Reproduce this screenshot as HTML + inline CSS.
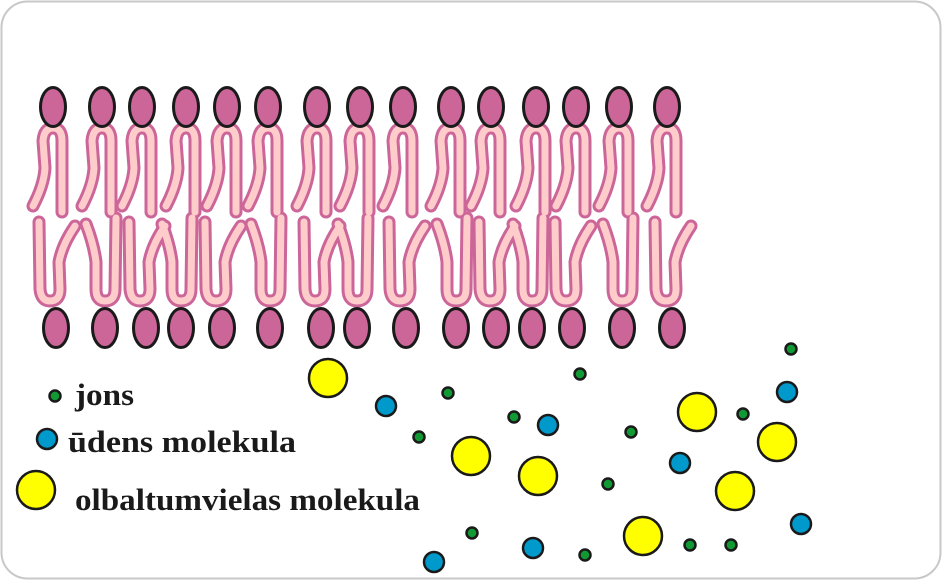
<!DOCTYPE html>
<html><head><meta charset="utf-8"><style>
html,body{margin:0;padding:0;background:#fff;}
svg{display:block}
text{font-family:"Liberation Serif",serif;font-weight:bold;font-size:31px;fill:#1a1a1a}
</style></head><body>
<svg id="s" width="942" height="580" viewBox="0 0 942 580" xmlns="http://www.w3.org/2000/svg">
<rect x="1.5" y="1.5" width="939" height="577" rx="26" fill="#fff" stroke="#c8c8c8" stroke-width="2"/>
<g id="tails" fill="none" stroke-linecap="round" stroke-linejoin="round"></g>
<g id="heads" fill="#cc6699" stroke="#1a1a1a" stroke-width="3"></g>
<g id="dots" stroke="#1a1a1a" stroke-width="2.5"></g>
<text x="75" y="405" textLength="59" lengthAdjust="spacingAndGlyphs">jons</text>
<text x="68" y="452" textLength="228" lengthAdjust="spacingAndGlyphs">ūdens molekula</text>
<text x="75" y="510" textLength="345" lengthAdjust="spacingAndGlyphs">olbaltumvielas molekula</text>
</svg>
<script>
var NS="http://www.w3.org/2000/svg";
function el(p,n,a){var e=document.createElementNS(NS,n);for(var k in a)e.setAttribute(k,a[k]);p.appendChild(e);return e;}
var T=document.getElementById('tails'),H=document.getElementById('heads'),D=document.getElementById('dots');
var topX=[53,102,142,186,227,268,317,360,403,451,491,536,576,619,667];
var botX=[56,105,146,181,222,270,321,357,406,456,496,532,572,622,672];
var paths=[];
topX.forEach(function(c,i){
 var d="M"+(c-20)+",206 Q"+(c-9)+",185 "+(c-8)+",168 L"+(c-10)+",141 Q"+(c-9)+",128 "+c+",128 Q"+(c+9)+",128 "+(c+9)+",141 L"+(c+9)+",212";
 paths.push(d);
});
botX.forEach(function(c,i){
 var d;
 if(i%2==0){
  d="M"+(c-17)+",222 L"+(c-16)+",289 Q"+(c-15)+",301 "+(c-6)+",301 Q"+(c+4)+",301 "+(c+4)+",289 L"+(c+3)+",262 Q"+(c+6)+",245 "+(c+19)+",226";
 }else{
  d="M"+(c-19)+",224 Q"+(c-11)+",245 "+(c-9)+",262 L"+(c-9)+",289 Q"+(c-9)+",301 "+c+",301 Q"+(c+10)+",301 "+(c+10)+",289 L"+(c+11)+",218";
 }
 paths.push(d);
});
paths.forEach(function(d){el(T,'path',{d:d,stroke:'#cc6699','stroke-width':13});});
paths.forEach(function(d){el(T,'path',{d:d,stroke:'#ffcccc','stroke-width':7});});
topX.forEach(function(c){el(H,'ellipse',{cx:c,cy:107,rx:12.5,ry:19.5});});
botX.forEach(function(c){el(H,'ellipse',{cx:c,cy:328,rx:12.5,ry:19.5});});
var g=[[55,396],[448,393],[580,374],[791,349],[514,417],[419,437],[631,432],[743,414],[608,484],[472,533],[585,555],[690,545],[731,545]];
var b=[[47,439],[386,406],[548,425],[787,392],[680,463],[533,548],[434,562],[801,524]];
var y=[[328,378],[36,490],[471,456],[538,476],[697,412],[777,442],[735,491],[643,536]];
g.forEach(function(p){el(D,'circle',{cx:p[0],cy:p[1],r:5.5,fill:'#119933'});});
b.forEach(function(p){el(D,'circle',{cx:p[0],cy:p[1],r:10,fill:'#0099cc'});});
y.forEach(function(p){el(D,'circle',{cx:p[0],cy:p[1],r:19,fill:'#ffff00'});});
</script>
</body></html>
